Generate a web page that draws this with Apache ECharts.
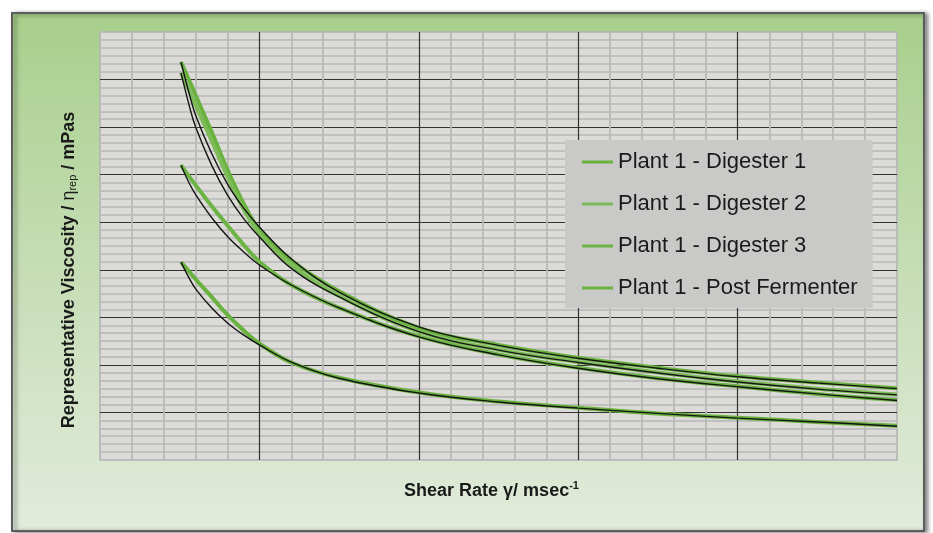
<!DOCTYPE html>
<html>
<head>
<meta charset="utf-8">
<script src="https://cdn.jsdelivr.net/npm/echarts@6/dist/echarts.min.js"></script>
<style>
  html, body { margin: 0; padding: 0; background: #ffffff; }
  #chart { width: 933px; height: 533px; }
</style>
</head>
<body>
<div id="chart"></div>
<script>
// Shear rate sample positions (x values, arbitrary axis units)
const shearRate = [25.4, 28, 30, 35, 40, 45, 50, 60, 75, 100, 125, 150, 175, 200, 225, 250];

// Measured curves (green)
const digester1 = [83.7, 79.8, 76.7, 69.0, 61.0, 54.0, 48.5, 42.0, 35.5, 27.8, 24.2, 21.5, 19.4, 17.6, 16.3, 15.1];
const digester2 = [81.4, 77.6, 74.6, 67.2, 59.6, 52.8, 47.6, 41.0, 34.5, 27.0, 23.2, 20.6, 18.4, 16.5, 15.0, 13.8];
const digester3 = [62, 59.6, 57.8, 53.4, 49.3, 45.3, 41.7, 36.8, 32.0, 26.0, 22.2, 19.4, 17.2, 15.5, 13.9, 12.6];
const postFermenter = [41.6, 39.6, 38.0, 34.3, 30.5, 27.3, 24.5, 20.5, 17.3, 14.2, 12.3, 11, 9.8, 8.9, 8, 7.2];

// Fitted curves (black)
const fit1 = [83.7, 77, 72.5, 64.5, 58, 53, 49.0, 42.3, 35.3, 28.0, 24.1, 21.4, 19.3, 17.5, 16.2, 15.0];
const fit2 = [81.4, 74.5, 70, 62, 55.7, 50.8, 46.9, 40.3, 34.3, 27.0, 23.1, 20.5, 18.3, 16.4, 14.9, 13.7];
const fit3 = [62, 58.2, 55.8, 51, 47, 43.8, 41.0, 36.8, 32.0, 25.9, 22.1, 19.3, 17.1, 15.4, 13.9, 12.5];
const fit4 = [41.6, 38.2, 36, 32, 28.8, 26.3, 24.2, 20.6, 17.2, 14.1, 12.2, 10.9, 9.8, 8.8, 8, 7.1];

const seriesNames = ['Plant 1 - Digester 1', 'Plant 1 - Digester 2', 'Plant 1 - Digester 3', 'Plant 1 - Post Fermenter'];
const fitNames = ['Fit - Digester 1', 'Fit - Digester 2', 'Fit - Digester 3', 'Fit - Post Fermenter'];
const greens = ['#69b23e', '#7cbb58', '#6cb444', '#69b23e'];

const measured = [digester1, digester2, digester3, postFermenter];
const fits = [fit1, fit2, fit3, fit4];

function pairs(ys) { return shearRate.map((x, i) => [x, ys[i]]); }

const FONT = '"Liberation Sans", Arial, sans-serif';

const series = [];
measured.forEach((ys, i) => {
  series.push({
    name: seriesNames[i], type: 'line', data: pairs(ys), symbol: 'none',
    smooth: 0.4, z: 2,
    lineStyle: { color: greens[i], width: 4 }, itemStyle: { color: greens[i] }
  });
});
fits.forEach((ys, i) => {
  series.push({
    name: fitNames[i], type: 'line', data: pairs(ys), symbol: 'none',
    smooth: 0.4, z: 3,
    lineStyle: { color: '#151515', width: 1.4 }, itemStyle: { color: '#151515' }
  });
});

const chart = echarts.init(document.getElementById('chart'), null, { renderer: 'canvas' });
chart.setOption({
  animation: false,
  backgroundColor: '#ffffff',
  graphic: {
    elements: [
      {
        type: 'rect', z: -10, silent: true,
        shape: { x: 12, y: 13, width: 912, height: 518 },
        style: {
          fill: new echarts.graphic.LinearGradient(0, 0, 0, 1, [
            { offset: 0, color: '#a7cf8b' },
            { offset: 0.45, color: '#c3dcb2' },
            { offset: 1, color: '#e2ebdb' }
          ]),
          stroke: '#5c5c5c', lineWidth: 2,
          shadowBlur: 4, shadowOffsetX: 3, shadowOffsetY: 1, shadowColor: 'rgba(0,0,0,0.45)'
        }
      },
      {
        type: 'text', z: 10, silent: true,
        x: 67, y: 270, rotation: Math.PI / 2,
        style: {
          text: '{b|Representative Viscosity / }{n|η}{s|rep}{b| / mPas}',
          align: 'center', verticalAlign: 'middle',
          rich: {
            b: { fontFamily: FONT, fontSize: 18, fontWeight: 'bold', fill: '#1a1a1a', lineHeight: 22, verticalAlign: 'bottom' },
            n: { fontFamily: FONT, fontSize: 18, fill: '#1a1a1a', lineHeight: 22, verticalAlign: 'bottom' },
            s: { fontFamily: FONT, fontSize: 11, fill: '#1a1a1a', lineHeight: 12, verticalAlign: 'bottom' }
          }
        }
      }
    ]
  },
  grid: {
    left: 100, right: 36, top: 32, bottom: 73,
    show: true, backgroundColor: '#dcdbd8', borderColor: '#b3b3b3', borderWidth: 1.5
  },
  legend: {
    data: seriesNames,
    orient: 'vertical', left: 565, top: 140,
    padding: [11, 15, 9, 17], itemGap: 20,
    backgroundColor: '#c9c9c7',
    icon: 'rect', itemWidth: 31, itemHeight: 3,
    textStyle: { fontFamily: FONT, fontSize: 22, color: '#1a1a1a', lineHeight: 22 }
  },
  xAxis: {
    type: 'value', min: 0, max: 250, interval: 50,
    name: '{b|Shear Rate γ/ msec}{sup|-1}',
    nameLocation: 'middle', nameGap: 20,
    nameTextStyle: {
      padding: [0, 14, 0, 0],
      rich: {
        b: { fontFamily: FONT, fontSize: 18, fontWeight: 'bold', color: '#1a1a1a', lineHeight: 22 },
        sup: { fontFamily: FONT, fontSize: 11, fontWeight: 'bold', color: '#1a1a1a', lineHeight: 11, verticalAlign: 'top' }
      }
    },
    axisLine: { show: false }, axisTick: { show: false }, axisLabel: { show: false },
    splitLine: { show: true, showMinLine: false, showMaxLine: false, lineStyle: { color: '#333333', width: 1.2 } },
    minorTick: { show: false, splitNumber: 5 },
    minorSplitLine: { show: true, lineStyle: { color: '#b8b8b8', width: 1.8 } }
  },
  yAxis: {
    type: 'value', min: 0, max: 90, interval: 10,
    axisLine: { show: false }, axisTick: { show: false }, axisLabel: { show: false },
    splitLine: { show: true, showMinLine: false, showMaxLine: false, lineStyle: { color: '#333333', width: 1.2 } },
    minorTick: { show: false, splitNumber: 6 },
    minorSplitLine: { show: true, lineStyle: { color: '#b8b8b8', width: 1.5 } }
  },
  series: series
});
</script>
</body>
</html>
